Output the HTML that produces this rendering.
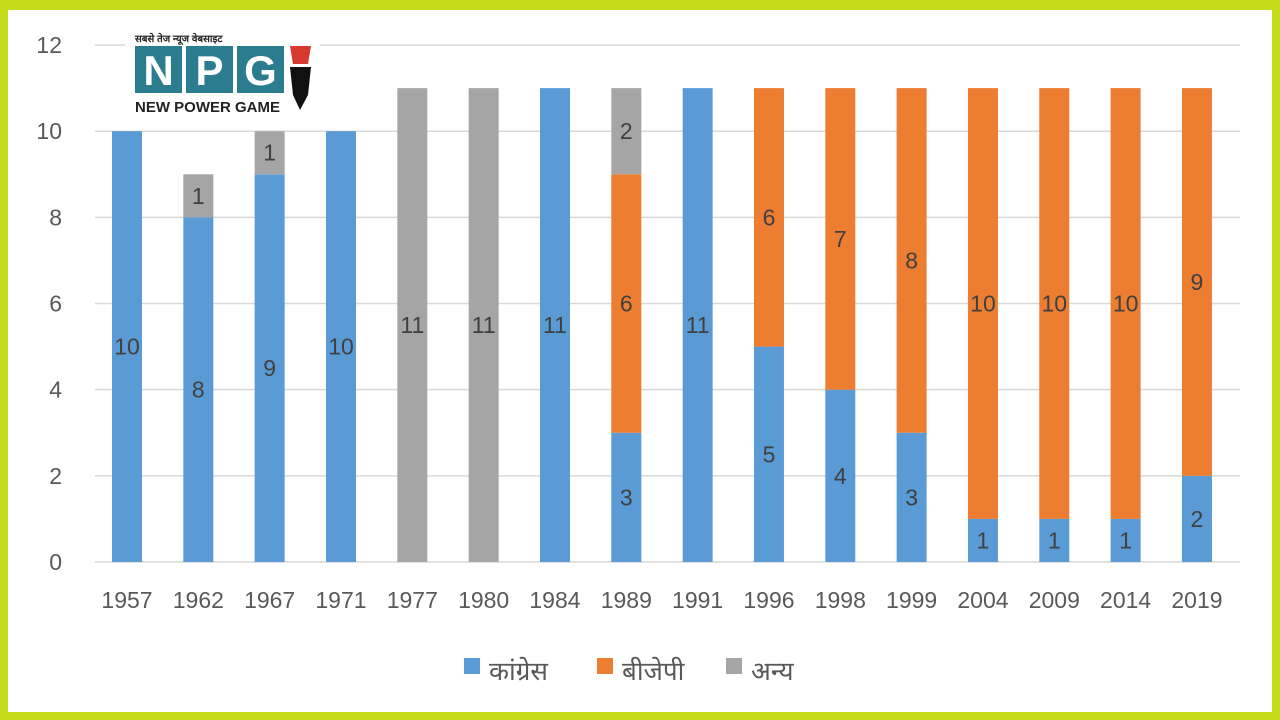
<!DOCTYPE html>
<html><head><meta charset="utf-8"><style>
html,body{margin:0;padding:0;width:1280px;height:720px;overflow:hidden;background:#c6dc1c}
#f{position:absolute;left:8px;top:10px;width:1264px;height:702px;background:#fff}
svg{position:absolute;left:0;top:0}
</style></head><body><div id="f"></div>
<svg id="s" width="1280" height="720" font-family="'Liberation Sans',sans-serif"></svg>
<script>
var s=document.getElementById('s'),h='';
var base=562,u=43.08;
for(var i=0;i<=6;i++){var y=base-i*2*u;h+='<line x1="95" x2="1240" y1="'+y+'" y2="'+y+'" stroke="#d9d9d9" stroke-width="1.5"/>';
h+='<text x="62" y="'+(y+8)+'" font-size="23" fill="#595959" text-anchor="end">'+(i*2)+'</text>';}
var yrs=[1957,1962,1967,1971,1977,1980,1984,1989,1991,1996,1998,1999,2004,2009,2014,2019];
var d=[[10,0,0],[8,0,1],[9,0,1],[10,0,0],[0,0,11],[0,0,11],[11,0,0],[3,6,2],[11,0,0],[5,6,0],[4,7,0],[3,8,0],[1,10,0],[1,10,0],[1,10,0],[2,9,0]];
var col=['#5b9bd5','#ed7d31','#a5a5a5'];
for(var i=0;i<16;i++){var cx=127+71.33*i,y0=base;
for(var k=0;k<3;k++){var v=d[i][k];if(!v)continue;var hh=v*u;
h+='<rect x="'+(cx-15)+'" y="'+(y0-hh)+'" width="30" height="'+hh+'" fill="'+col[k]+'"/>';
h+='<text x="'+cx+'" y="'+(y0-hh/2+8)+'" font-size="23" fill="#404040" text-anchor="middle">'+v+'</text>';
y0-=hh;}
h+='<text x="'+cx+'" y="608" font-size="23" fill="#595959" text-anchor="middle">'+yrs[i]+'</text>';}
var lg=[[464,'कांग्रेस',0],[597,'बीजेपी',1],[726,'अन्य',2]];
lg.forEach(function(l){h+='<rect x="'+l[0]+'" y="658" width="16" height="16" fill="'+col[l[2]]+'"/><text x="'+(l[0]+25)+'" y="680" font-size="26" fill="#595959">'+l[1]+'</text>';});
// logo
h+='<rect x="125" y="30" width="195" height="88" fill="#fff"/>';
h+='<text x="135" y="42" font-size="10" font-weight="bold" fill="#222">सबसे तेज न्यूज वेबसाइट</text>';
[['N',135],['P',186],['G',237]].forEach(function(b){h+='<rect x="'+b[1]+'" y="46" width="47" height="47" fill="#2b7c8e"/><text x="'+(b[1]+23.5)+'" y="85" font-size="42" font-weight="bold" fill="#fff" text-anchor="middle">'+b[0]+'</text>';});
h+='<text x="135" y="112" font-size="15" font-weight="bold" fill="#222">NEW POWER GAME</text>';
h+='<polygon points="290,46 311,46 308,64 293,64" fill="#d63a2e"/><polygon points="290,67 311,67 308,95 300,110 293,95" fill="#111"/>';
s.innerHTML=h;
</script></body></html>
